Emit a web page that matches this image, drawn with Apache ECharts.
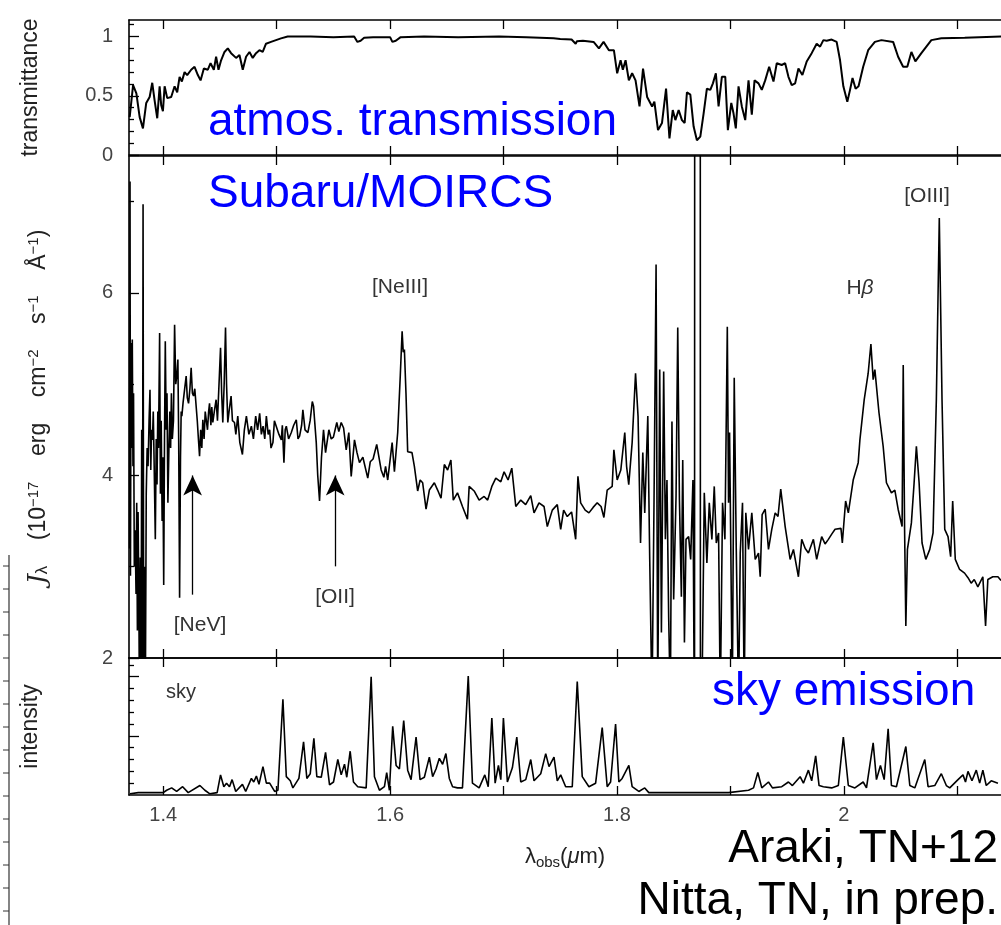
<!DOCTYPE html>
<html><head><meta charset="utf-8">
<script src="https://cdn.jsdelivr.net/npm/echarts@6/dist/echarts.min.js"></script>
<style>html,body{margin:0;padding:0;background:#fff}#c{width:1001px;height:925px}</style>
</head><body><div id="c"></div>
<script>
// ---------- data ----------
const specWave = [1.3703,1.3707,1.3711,1.3716,1.3722,1.3727,1.3733,1.3738,1.3745,1.3752,1.3760,1.3766,1.3772,1.3778,1.3785,1.3790,1.3797,1.3804,1.3810,1.3816,1.3822,1.3828,1.3835,1.3842,1.3850,1.3858,1.3866,1.3875,1.3883,1.3890,1.3897,1.3905,1.3912,1.3920,1.3930,1.3938,1.3945,1.3952,1.3958,1.3968,1.3975,1.3982,1.3990,1.3996,1.4004,1.4011,1.4018,1.4026,1.4033,1.4041,1.4050,1.4058,1.4065,1.4072,1.4080,1.4090,1.4100,1.4110,1.4120,1.4129,1.4136,1.4144,1.4152,1.4158,1.4164,1.4175,1.4188,1.4202,1.4212,1.4223,1.4235,1.4246,1.4257,1.4267,1.4278,1.4290,1.4300,1.4310,1.4320,1.4330,1.4340,1.4349,1.4360,1.4370,1.4378,1.4390,1.4400,1.4408,1.4420,1.4428,1.4437,1.4450,1.4466,1.4478,1.4487,1.4495,1.4505,1.4515,1.4525,1.4537,1.4549,1.4558,1.4569,1.4580,1.4598,1.4610,1.4628,1.4640,1.4657,1.4675,1.4698,1.4715,1.4733,1.4755,1.4777,1.4795,1.4815,1.4832,1.4850,1.4865,1.4880,1.4895,1.4909,1.4925,1.4938,1.4950,1.4967,1.4980,1.4997,1.5020,1.5041,1.5050,1.5064,1.5075,1.5085,1.5105,1.5129,1.5150,1.5173,1.5188,1.5202,1.5220,1.5231,1.5250,1.5275,1.5295,1.5314,1.5325,1.5349,1.5362,1.5378,1.5395,1.5413,1.5431,1.5460,1.5481,1.5500,1.5530,1.5548,1.5569,1.5590,1.5613,1.5636,1.5657,1.5686,1.5708,1.5730,1.5760,1.5803,1.5825,1.5850,1.5882,1.5921,1.5945,1.5960,1.5979,1.6018,1.6038,1.6067,1.6090,1.6106,1.6116,1.6126,1.6140,1.6155,1.6193,1.6214,1.6243,1.6265,1.6287,1.6317,1.6346,1.6390,1.6419,1.6449,1.6478,1.6507,1.6536,1.6557,1.6594,1.6638,1.6682,1.6697,1.6741,1.6785,1.6829,1.6860,1.6897,1.6932,1.6976,1.7005,1.7040,1.7073,1.7108,1.7152,1.7195,1.7240,1.7269,1.7313,1.7357,1.7386,1.7430,1.7474,1.7504,1.7530,1.7562,1.7600,1.7636,1.7656,1.7680,1.7720,1.7753,1.7790,1.7826,1.7860,1.7885,1.7914,1.7958,1.7973,1.8002,1.8034,1.8069,1.8085,1.8104,1.8134,1.8164,1.8186,1.8208,1.8228,1.8245,1.8272,1.8289,1.8309,1.8327,1.8345,1.8360,1.8377,1.8392,1.8412,1.8427,1.8441,1.8456,1.8471,1.8485,1.8500,1.8521,1.8536,1.8551,1.8568,1.8580,1.8595,1.8609,1.8632,1.8650,1.8670,1.8684,1.8686,1.8734,1.8736,1.8749,1.8770,1.8793,1.8814,1.8837,1.8858,1.8876,1.8896,1.8911,1.8931,1.8952,1.8973,1.8984,1.8993,1.9004,1.9017,1.9034,1.9052,1.9072,1.9087,1.9107,1.9122,1.9136,1.9160,1.9189,1.9219,1.9248,1.9263,1.9280,1.9307,1.9336,1.9365,1.9395,1.9420,1.9444,1.9483,1.9527,1.9556,1.9600,1.9629,1.9660,1.9688,1.9732,1.9761,1.9805,1.9835,1.9864,1.9895,1.9923,1.9975,1.9987,2.0016,2.0040,2.0083,2.0127,2.0142,2.0180,2.0215,2.0239,2.0259,2.0274,2.0310,2.0347,2.0376,2.0420,2.0450,2.0479,2.0514,2.0524,2.0536,2.0547,2.0561,2.0596,2.0620,2.0640,2.0664,2.0690,2.0723,2.0758,2.0787,2.0816,2.0842,2.0866,2.0890,2.0919,2.0942,2.0960,2.0983,2.1021,2.1065,2.1095,2.1123,2.1150,2.1182,2.1226,2.1250,2.1270,2.1314,2.1359,2.1386];
const specFlux = [3.2,7.22,2.9,5.45,4.3,5.49,4.1,4.9,3.0,3.4,2.7,3.7,2.3,3.6,2.6,1.5,3.1,1.5,4.5,1.5,6.97,1.5,3.0,1.5,3.8,4.3,4.1,4.6,4.94,4.06,4.5,4.39,4.7,4.1,3.30,4.4,3.9,4.7,4.3,5.56,3.8,4.6,3.5,4.2,2.80,4.4,5.47,4.5,4.9,3.70,4.3,4.7,4.3,4.9,4.4,4.6,5.65,5.0,5.1,5.27,4.4,2.66,4.2,4.7,4.65,4.8,4.94,5.09,4.85,4.79,4.95,5.18,4.9,4.87,4.95,4.94,4.6,4.4,4.21,4.5,4.3,4.61,4.4,4.7,4.72,4.5,4.7,4.79,4.55,4.75,4.58,4.7,4.83,4.6,4.58,5.1,5.40,4.9,4.58,5.0,5.62,5.0,4.58,4.7,4.87,4.6,4.58,4.45,4.65,4.36,4.23,4.5,4.65,4.45,4.54,4.4,4.65,4.5,4.68,4.45,4.54,4.4,4.65,4.45,4.50,4.3,4.36,4.6,4.58,4.45,4.39,4.55,4.14,4.5,4.54,4.4,4.47,4.55,4.61,4.4,4.43,4.55,4.72,4.5,4.47,4.6,4.81,4.76,4.36,4.0,3.72,4.2,4.50,4.25,4.50,4.4,4.42,4.58,4.48,4.58,4.52,4.28,4.47,3.99,4.39,4.25,4.14,4.2,3.97,4.15,4.18,4.34,4.06,3.98,4.1,3.95,4.36,4.04,4.47,5.1,5.58,5.35,5.38,4.9,4.26,4.25,4.10,3.83,3.95,3.92,3.63,3.84,3.92,3.84,3.75,4.12,4.06,4.17,3.73,3.81,3.66,3.52,3.88,3.83,3.73,3.77,3.73,3.88,3.97,3.93,4.04,3.95,4.08,3.66,3.73,3.68,3.78,3.59,3.70,3.66,3.44,3.62,3.68,3.41,3.62,3.55,3.6,3.30,3.99,3.70,3.62,3.59,3.65,3.70,3.66,3.54,3.84,3.88,4.28,3.95,4.06,4.47,4.1,3.90,4.36,5.12,4.65,3.26,4.25,3.59,4.65,3.08,1.5,3.73,6.31,1.5,5.16,2.28,5.14,3.30,3.95,2.45,1.5,4.59,2.64,3.77,5.62,3.73,2.67,4.17,2.17,3.30,3.33,3.08,3.95,1.0,12,12,1.0,1.5,3.81,3.04,3.70,3.30,3.88,3.26,3.37,1.5,3.70,3.30,5.63,3.70,4.47,3.19,1.5,5.07,3.19,1.5,3.15,3.70,1.5,3.59,3.19,3.59,3.08,3.15,2.89,3.57,3.63,3.19,3.41,3.59,3.55,3.85,3.44,3.08,3.19,2.89,3.30,3.2,3.15,3.30,3.08,3.33,3.25,3.30,3.36,3.41,3.42,3.26,3.72,3.59,3.95,4.14,4.39,4.83,5.12,5.44,5.05,5.16,4.69,4.32,3.92,3.81,3.84,3.63,3.44,5.21,3.41,2.35,3.19,3.48,3.92,4.32,3.92,3.26,3.08,3.19,3.37,4.83,6.82,4.83,3.41,3.33,3.11,3.72,3.08,2.97,2.93,2.88,2.82,2.86,2.78,2.89,2.35,2.86,2.89,2.89,2.85];

const transWave = [1.3704,1.3734,1.3763,1.3792,1.3821,1.3850,1.3880,1.3903,1.3924,1.3947,1.3968,1.3982,1.3997,1.4012,1.4035,1.4070,1.4100,1.4123,1.4144,1.4164,1.4188,1.4211,1.4246,1.4276,1.4305,1.4329,1.4358,1.4393,1.4417,1.4446,1.4466,1.4487,1.4510,1.4540,1.4569,1.4598,1.4642,1.4672,1.4701,1.4730,1.4760,1.4789,1.4818,1.4848,1.4877,1.4906,1.4950,1.4994,1.5038,1.5097,1.5300,1.5500,1.5683,1.5712,1.5740,1.5771,1.5850,1.6000,1.6020,1.6050,1.6093,1.6300,1.6600,1.6961,1.7200,1.7442,1.7500,1.7600,1.7636,1.7647,1.7700,1.7794,1.7841,1.7882,1.7929,1.7973,1.8002,1.8032,1.8052,1.8076,1.8105,1.8134,1.8164,1.8199,1.8230,1.8266,1.8310,1.8330,1.8362,1.8397,1.8433,1.8463,1.8492,1.8515,1.8544,1.8573,1.8597,1.8617,1.8647,1.8676,1.8705,1.8735,1.8764,1.8793,1.8823,1.8846,1.8872,1.8896,1.8925,1.8955,1.8978,1.9008,1.9028,1.9048,1.9072,1.9101,1.9131,1.9160,1.9189,1.9213,1.9248,1.9277,1.9307,1.9342,1.9380,1.9409,1.9453,1.9483,1.9512,1.9541,1.9571,1.9600,1.9635,1.9673,1.9717,1.9761,1.9791,1.9820,1.9849,1.9893,1.9937,1.9967,1.9996,2.0031,2.0055,2.0077,2.0104,2.0130,2.0171,2.0215,2.0274,2.0332,2.0435,2.0479,2.0523,2.0560,2.0596,2.0631,2.0684,2.0772,2.0860,2.1066,2.1386];
const transVal = [0.32,0.59,0.52,0.32,0.225,0.44,0.49,0.61,0.46,0.31,0.58,0.42,0.37,0.58,0.48,0.49,0.58,0.53,0.66,0.62,0.70,0.675,0.72,0.745,0.675,0.63,0.73,0.72,0.775,0.72,0.83,0.72,0.80,0.87,0.90,0.86,0.82,0.845,0.72,0.83,0.87,0.82,0.86,0.885,0.87,0.94,0.955,0.97,0.985,1.0,1.0,0.995,1.0,0.955,0.965,0.99,0.995,0.995,0.955,0.965,0.995,1.0,0.995,1.0,0.995,0.985,0.98,0.975,0.94,0.96,0.965,0.955,0.90,0.955,0.885,0.885,0.69,0.80,0.72,0.80,0.63,0.69,0.63,0.41,0.73,0.49,0.41,0.45,0.21,0.27,0.56,0.14,0.38,0.295,0.38,0.295,0.27,0.53,0.51,0.24,0.125,0.155,0.35,0.56,0.55,0.605,0.69,0.41,0.66,0.66,0.21,0.44,0.35,0.225,0.58,0.41,0.295,0.63,0.34,0.63,0.605,0.55,0.63,0.745,0.62,0.775,0.76,0.775,0.66,0.59,0.605,0.73,0.675,0.79,0.86,0.94,0.915,0.97,0.965,0.975,0.955,0.80,0.58,0.45,0.55,0.65,0.56,0.58,0.745,0.885,0.955,0.97,0.955,0.83,0.745,0.745,0.87,0.79,0.86,0.97,0.985,0.99,1.0];

const skyWave = [1.3707,1.3780,1.4000,1.4030,1.4074,1.4118,1.4171,1.4220,1.4323,1.4367,1.4411,1.4475,1.4505,1.4534,1.4558,1.4584,1.4607,1.4639,1.4698,1.4727,1.4777,1.4798,1.4821,1.4844,1.4879,1.4909,1.4938,1.4982,1.5011,1.5055,1.5085,1.5120,1.5143,1.5196,1.5237,1.5266,1.5296,1.5328,1.5354,1.5393,1.5431,1.5466,1.5501,1.5539,1.5569,1.5598,1.5618,1.5648,1.5677,1.5715,1.5789,1.5833,1.5862,1.5906,1.5950,1.5970,1.5994,1.6023,1.6053,1.6082,1.6120,1.6155,1.6185,1.6229,1.6264,1.6302,1.6346,1.6375,1.6405,1.6434,1.6463,1.6492,1.6522,1.6551,1.6594,1.6638,1.6689,1.6726,1.6785,1.6835,1.6865,1.6897,1.6926,1.6955,1.6976,1.6999,1.7034,1.7078,1.7117,1.7152,1.7196,1.7240,1.7269,1.7328,1.7372,1.7401,1.7445,1.7474,1.7504,1.7548,1.7606,1.7650,1.7694,1.7753,1.7812,1.7870,1.7914,1.7944,1.7988,1.8017,1.8046,1.8105,1.8134,1.8193,1.8245,1.8281,1.8573,1.8984,1.9160,1.9204,1.9242,1.9277,1.9336,1.9371,1.9453,1.9512,1.9547,1.9615,1.9644,1.9688,1.9717,1.9752,1.9782,1.9820,1.9893,1.9952,1.9996,2.0040,2.0098,2.0171,2.0200,2.0259,2.0288,2.0323,2.0356,2.0391,2.0420,2.0464,2.0547,2.0582,2.0626,2.0714,2.0743,2.0802,2.0860,2.0904,2.0934,2.1007,2.1051,2.1073,2.1095,2.1130,2.1168,2.1198,2.1226,2.1256,2.1300,2.1359];
const skyVal = [0.01,0.02,0.02,0.04,0.06,0.03,0.07,0.02,0.08,0.04,0.01,0.02,0.17,0.07,0.10,0.07,0.13,0.03,0.09,0.03,0.14,0.11,0.16,0.09,0.24,0.10,0.10,0.03,0.04,0.81,0.155,0.12,0.06,0.14,0.45,0.14,0.18,0.48,0.155,0.15,0.36,0.085,0.11,0.30,0.17,0.26,0.15,0.37,0.11,0.07,0.06,1.00,0.155,0.04,0.07,0.19,0.04,0.58,0.25,0.22,0.63,0.21,0.13,0.49,0.13,0.15,0.32,0.155,0.22,0.31,0.26,0.35,0.14,0.07,0.06,0.06,1.005,0.10,0.06,0.17,0.07,0.65,0.10,0.25,0.13,0.65,0.11,0.23,0.49,0.11,0.13,0.30,0.12,0.18,0.35,0.24,0.32,0.12,0.17,0.07,0.07,0.96,0.155,0.07,0.10,0.57,0.07,0.11,0.60,0.11,0.14,0.25,0.07,0.03,0.06,0.02,0.02,0.02,0.04,0.06,0.19,0.06,0.11,0.06,0.07,0.11,0.08,0.155,0.10,0.21,0.12,0.33,0.08,0.07,0.06,0.08,0.49,0.08,0.06,0.11,0.06,0.44,0.13,0.25,0.13,0.56,0.08,0.07,0.41,0.08,0.06,0.30,0.07,0.08,0.18,0.08,0.06,0.13,0.17,0.11,0.20,0.12,0.21,0.10,0.21,0.08,0.12,0.10];

const xTickVals = [1.4,1.5,1.6,1.7,1.8,1.9,2.0,2.1];
const xLabelVals = [1.4,1.6,1.8,2.0];
const transMajor = [0,0.5,1], transMinor = [0.1,0.2,0.3,0.4,0.6,0.7,0.8,0.9,1.1];
const fluxMajor = [2,4,6], fluxMinor = [3,5,7];
const skyMajor = [0.5,1.0], skyMinor = [0.1,0.2,0.3,0.4,0.6,0.7,0.8,0.9,1.1];
// emission-line arrows: wavelength, tail flux, head (tip) flux
const arrowWave = [1.4259, 1.5516];
const arrowTail = [2.694, 3.004];
const arrowHead = [4.0, 4.0];

// ---------- chart ----------
const FF = 'Liberation Sans, Arial, sans-serif';
const X_MIN = 1.3698, X_MAX = 2.1386;
const ranges = [[0, 1.14], [2, 7.5], [0, 1.158]];
const zip = (a, b) => a.map((v, i) => [v, b[i]]);
const fmt = v => String(Math.round(v * 10) / 10);

const grids = [
  {left: 129, top: 20, width: 872, height: 135},
  {left: 129, top: 156, width: 872, height: 502},
  {left: 129, top: 658, width: 872, height: 137}
];

function xAx(g, pos, labels) {
  const ax = {
    type: 'value', gridIndex: g, position: pos, min: X_MIN, max: X_MAX,
    axisLine: {show: true, onZero: false, lineStyle: {color: '#000', width: 1.6}},
    splitLine: {show: false},
    axisTick: {show: true, inside: true, length: 9, customValues: xTickVals, lineStyle: {color: '#000', width: 1.3}},
    axisLabel: {show: labels, customValues: xLabelVals, formatter: fmt, margin: 10,
      fontSize: 20, color: '#444', fontFamily: FF}
  };
  if (labels) {
    ax.name = '{l|λ}{s|obs}{l|(}{m|μ}{l|m)}';
    ax.nameLocation = 'middle';
    ax.nameGap = 51;
    ax.nameTextStyle = {rich: {
      l: {fontSize: 22, color: '#222', fontFamily: FF, verticalAlign: 'top'},
      s: {fontSize: 15, color: '#222', fontFamily: FF, verticalAlign: 'bottom', padding: [9, 0, 0, 0]},
      m: {fontSize: 22, color: '#222', fontFamily: FF, fontStyle: 'italic', verticalAlign: 'top'}
    }};
  }
  return ax;
}
function yAx(g, major, vals, labels, name, gap, len) {
  const ax = {
    type: 'value', gridIndex: g, position: 'left', min: ranges[g][0], max: ranges[g][1],
    axisLine: {show: major, onZero: false, lineStyle: {color: '#000', width: 1.6}},
    splitLine: {show: false},
    axisTick: {show: true, inside: true, length: len, customValues: vals, lineStyle: {color: '#000', width: 1.3}},
    axisLabel: {show: labels, customValues: vals, formatter: fmt, margin: 16,
      fontSize: 20, color: '#444', fontFamily: FF}
  };
  if (name) {
    ax.name = name; ax.nameLocation = 'middle'; ax.nameRotate = 90; ax.nameGap = gap;
    ax.nameTextStyle = {fontSize: 23, color: '#222', fontFamily: FF, rich: {
      n: {fontSize: 23, color: '#222', fontFamily: FF},
      i: {fontSize: 25, color: '#222', fontFamily: 'DejaVu Serif, serif', fontStyle: 'italic'},
      sb: {fontSize: 17, color: '#222', fontFamily: FF, verticalAlign: 'bottom'},
      p: {fontSize: 15, color: '#222', fontFamily: FF, verticalAlign: 'top'}
    }};
  }
  return ax;
}

const fluxName = '{i|J}{sb|λ}{n|    (10}{p|−17}{n|    erg    cm}{p|−2}{n|    s}{p|−1}{n|    Å}{p|−1}{n|)}';

// cropped edge of a neighbouring figure at the far left
const edgeTicks = [];
for (let yy = 566; yy < 925; yy += 23) {
  edgeTicks.push({type: 'line', shape: {x1: 3, y1: yy, x2: 9, y2: yy}, style: {stroke: '#333', lineWidth: 1}});
}

const option = {
  backgroundColor: '#fff',
  animation: false,
  grid: grids,
  xAxis: [xAx(0, 'bottom', false), xAx(0, 'top', false), xAx(1, 'bottom', false), xAx(1, 'top', false), xAx(2, 'bottom', true), xAx(2, 'top', false)],
  yAxis: [
    yAx(0, true, transMajor, true, 'transmittance', 87, 10), yAx(0, false, transMinor, false, null, 0, 5),
    yAx(1, true, fluxMajor, true, fluxName, 78, 10), yAx(1, false, fluxMinor, false, null, 0, 5),
    yAx(2, true, skyMajor, false, 'intensity', 87, 10), yAx(2, false, skyMinor, false, null, 0, 5)
  ],
  series: [
    {type: 'line', xAxisIndex: 0, yAxisIndex: 0, data: zip(transWave, transVal), showSymbol: false,
      lineStyle: {color: '#000', width: 2}, clip: true},
    {type: 'line', xAxisIndex: 2, yAxisIndex: 2, data: zip(specWave, specFlux), showSymbol: false,
      lineStyle: {color: '#000', width: 1.6}, clip: true,
      markLine: {silent: true, symbol: ['none', 'arrow'], symbolSize: [14, 20], animation: false,
        lineStyle: {color: '#000', width: 1.3, type: 'solid'}, label: {show: false},
        data: arrowWave.map((w, i) => [{coord: [w, arrowTail[i]]}, {coord: [w, arrowHead[i]]}])}},
    {type: 'line', xAxisIndex: 4, yAxisIndex: 4, data: zip(skyWave, skyVal), showSymbol: false,
      lineStyle: {color: '#000', width: 1.6}, clip: true}
  ],
  graphic: [
    {type: 'text', x: 208, y: 122, style: {text: 'atmos. transmission', font: '46px ' + FF, fill: '#0000ff', align: 'left', verticalAlign: 'middle'}},
    {type: 'text', x: 208, y: 194, style: {text: 'Subaru/MOIRCS', font: '46px ' + FF, fill: '#0000ff', align: 'left', verticalAlign: 'middle'}},
    {type: 'text', x: 712, y: 692, style: {text: 'sky emission', font: '46px ' + FF, fill: '#0000ff', align: 'left', verticalAlign: 'middle'}},
    {type: 'text', x: 998, y: 849, style: {text: 'Araki, TN+12', font: '46px ' + FF, fill: '#000', align: 'right', verticalAlign: 'middle'}},
    {type: 'text', x: 998, y: 901, style: {text: 'Nitta, TN, in prep.', font: '46px ' + FF, fill: '#000', align: 'right', verticalAlign: 'middle'}},
    {type: 'text', x: 400, y: 287, style: {text: '[NeIII]', font: '21px ' + FF, fill: '#333', align: 'center', verticalAlign: 'middle'}},
    {type: 'text', x: 860, y: 288, style: {text: '{a|H}{b|β}', rich: {a: {font: '21px ' + FF, fill: '#333'}, b: {font: 'italic 21px ' + FF, fill: '#333'}}, align: 'center', verticalAlign: 'middle'}},
    {type: 'text', x: 927, y: 196, style: {text: '[OIII]', font: '21px ' + FF, fill: '#333', align: 'center', verticalAlign: 'middle'}},
    {type: 'text', x: 200, y: 625, style: {text: '[NeV]', font: '21px ' + FF, fill: '#333', align: 'center', verticalAlign: 'middle'}},
    {type: 'text', x: 335, y: 597, style: {text: '[OII]', font: '21px ' + FF, fill: '#333', align: 'center', verticalAlign: 'middle'}},
    {type: 'text', x: 181, y: 692, style: {text: 'sky', font: '20px ' + FF, fill: '#333', align: 'center', verticalAlign: 'middle'}},
    {type: 'line', shape: {x1: 9, y1: 555, x2: 9, y2: 925}, style: {stroke: '#333', lineWidth: 1.2}}
  ].concat(edgeTicks)
};
const chart = echarts.init(document.getElementById('c'), null, {renderer: 'canvas'});
chart.setOption(option);
</script></body></html>
